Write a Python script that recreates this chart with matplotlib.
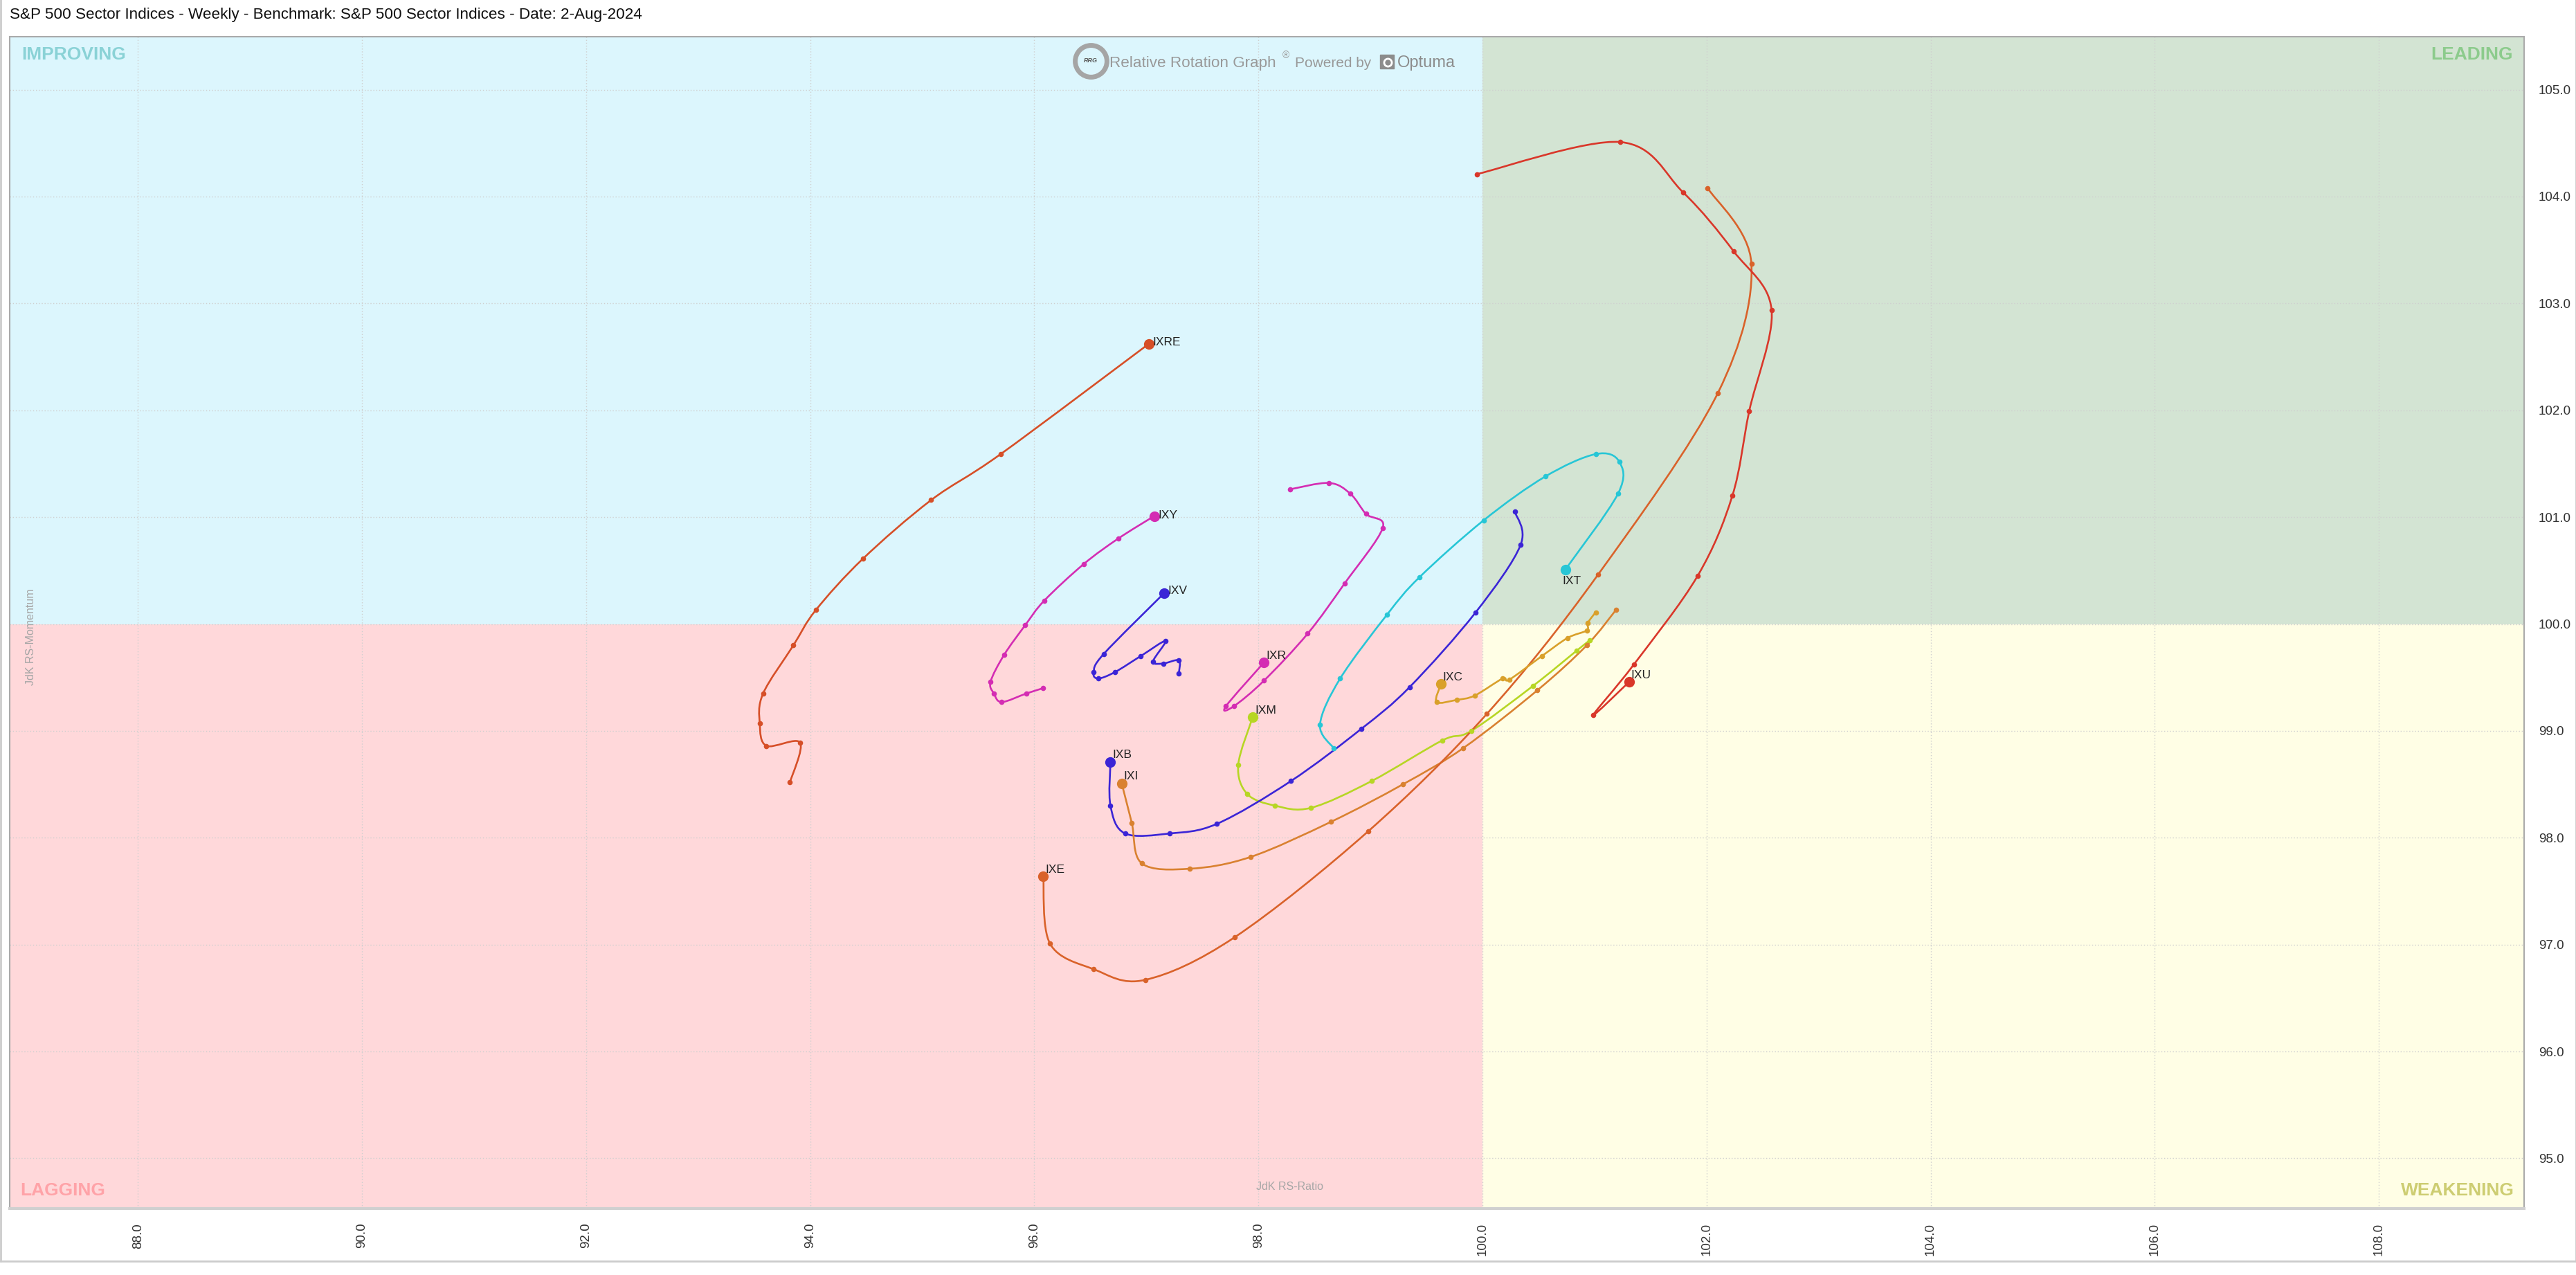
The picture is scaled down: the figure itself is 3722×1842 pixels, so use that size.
import matplotlib.pyplot as plt
from matplotlib.path import Path
from matplotlib.patches import PathPatch, Rectangle
from matplotlib.lines import Line2D
import numpy as np

plt.rcParams['font.family'] = ['Liberation Sans', 'DejaVu Sans']

W, H = 3723, 1842

# weekly tails, oldest -> latest (last value = current position)
names = ['IXRE', 'IXY', 'IXV', 'IXR', 'IXM', 'IXB', 'IXI', 'IXE', 'IXU', 'IXT', 'IXC']
colors = ['#d64f28', '#d42db3', '#3b25d6', '#d42db3', '#b7d624', '#3b25d6',
          '#d98130', '#d9622a', '#d9372a', '#27c6d6', '#d9a02a']

ixre_ratio = [93.82, 93.91, 93.61, 93.55, 93.58, 93.85, 94.05, 94.47, 95.08, 95.70, 97.02]
ixre_mom = [98.52, 98.89, 98.86, 99.07, 99.35, 99.80, 100.13, 100.61, 101.16, 101.59, 102.62]

ixy_ratio = [96.08, 95.93, 95.71, 95.64, 95.61, 95.73, 95.92, 96.09, 96.44, 96.75, 97.07]
ixy_mom = [99.40, 99.35, 99.27, 99.35, 99.46, 99.71, 99.99, 100.22, 100.56, 100.80, 101.01]

ixv_ratio = [97.29, 97.29, 97.15, 97.06, 97.17, 96.95, 96.72, 96.57, 96.53, 96.62, 97.16]
ixv_mom = [99.54, 99.66, 99.63, 99.65, 99.84, 99.70, 99.55, 99.49, 99.55, 99.72, 100.29]

ixr_ratio = [98.28, 98.63, 98.82, 98.96, 99.11, 98.77, 98.44, 98.05, 97.78, 97.71, 98.05]
ixr_mom = [101.26, 101.32, 101.22, 101.03, 100.90, 100.38, 99.91, 99.47, 99.23, 99.23, 99.64]

ixm_ratio = [100.96, 100.84, 100.45, 99.90, 99.64, 99.01, 98.47, 98.15, 97.90, 97.82, 97.95]
ixm_mom = [99.85, 99.75, 99.42, 99.00, 98.91, 98.53, 98.28, 98.30, 98.41, 98.68, 99.13]

ixb_ratio = [100.29, 100.34, 99.94, 99.35, 98.92, 98.29, 97.63, 97.21, 96.81, 96.68, 96.68]
ixb_mom = [101.05, 100.74, 100.11, 99.41, 99.02, 98.53, 98.13, 98.04, 98.04, 98.30, 98.71]

ixi_ratio = [101.19, 100.93, 100.49, 99.83, 99.29, 98.65, 97.93, 97.39, 96.96, 96.87, 96.78]
ixi_mom = [100.13, 99.80, 99.38, 98.84, 98.50, 98.15, 97.82, 97.71, 97.76, 98.14, 98.51]

ixe_ratio = [102.01, 102.40, 102.10, 101.03, 100.04, 98.98, 97.79, 96.99, 96.53, 96.14, 96.08]
ixe_mom = [104.08, 103.37, 102.16, 100.46, 99.16, 98.06, 97.07, 96.67, 96.77, 97.01, 97.64]

ixu_ratio = [99.95, 101.23, 101.79, 102.24, 102.58, 102.38, 102.23, 101.92, 101.35, 100.99, 101.31]
ixu_mom = [104.21, 104.51, 104.04, 103.49, 102.94, 101.99, 101.20, 100.45, 99.62, 99.15, 99.46]

ixt_ratio = [98.67, 98.55, 98.73, 99.15, 99.44, 100.01, 100.56, 101.01, 101.22, 101.21, 100.74]
ixt_mom = [98.84, 99.06, 99.49, 100.09, 100.44, 100.97, 101.38, 101.59, 101.52, 101.22, 100.51]

ixc_ratio = [101.01, 100.94, 100.93, 100.76, 100.53, 100.24, 100.18, 99.93, 99.77, 99.59, 99.63]
ixc_mom = [100.11, 100.01, 99.94, 99.87, 99.70, 99.48, 99.49, 99.33, 99.29, 99.27, 99.44]

ratios = [ixre_ratio, ixy_ratio, ixv_ratio, ixr_ratio, ixm_ratio, ixb_ratio,
          ixi_ratio, ixe_ratio, ixu_ratio, ixt_ratio, ixc_ratio]
moms = [ixre_mom, ixy_mom, ixv_mom, ixr_mom, ixm_mom, ixb_mom,
        ixi_mom, ixe_mom, ixu_mom, ixt_mom, ixc_mom]

# label offsets (points) relative to the head
label_off = {'IXRE': (4, 2), 'IXY': (4, 1), 'IXV': (4, 2), 'IXT': (-3, -12)}


def smooth_path(xs, ys):
    # catmull-rom through the weekly points, as bezier segments
    pts = np.column_stack([xs, ys])
    n = len(pts)
    verts = [pts[0]]
    codes = [Path.MOVETO]
    for i in range(n - 1):
        p0 = pts[max(i - 1, 0)]
        p1 = pts[i]
        p2 = pts[i + 1]
        p3 = pts[min(i + 2, n - 1)]
        verts += [p1 + (p2 - p0) / 6, p2 - (p3 - p1) / 6, p2]
        codes += [Path.CURVE4] * 3
    return Path(verts, codes)


fig = plt.figure(figsize=(W / 100, H / 100), dpi=100)
ax = fig.add_axes([14 / W, 96 / H, 3633 / W, 1693 / H])
ax.set_xlim(86.856, 109.296)
ax.set_ylim(94.53, 105.496)

# quadrants
ax.add_patch(Rectangle((80, 100), 20, 10, color='#dcf6fd', zorder=0, lw=0))
ax.add_patch(Rectangle((100, 100), 20, 10, color='#d3e4d3', zorder=0, lw=0))
ax.add_patch(Rectangle((80, 90), 20, 10, color='#ffd8da', zorder=0, lw=0))
ax.add_patch(Rectangle((100, 90), 20, 10, color='#fffee5', zorder=0, lw=0))

ax.set_xticks(np.arange(88, 109, 2))
ax.set_xticklabels([f"{v:.1f}" for v in np.arange(88, 109, 2)], rotation=90)
ax.set_yticks(np.arange(95, 106, 1))
ax.set_yticklabels([f"{v:.1f}" for v in np.arange(95, 106, 1)])
ax.yaxis.tick_right()
ax.tick_params(length=0, pad=15, labelsize=13.5, labelcolor='#333333')
ax.grid(True, color='#cfcfcf', linestyle=(0, (1, 2)), linewidth=1)
ax.set_axisbelow(True)
for s in ['top', 'right', 'left']:
    ax.spines[s].set_color('#aaaaaa')
    ax.spines[s].set_linewidth(1.5)
ax.spines['bottom'].set_color('#d0d0d0')
ax.spines['bottom'].set_linewidth(3)

for name, col, xs, ys in zip(names, colors, ratios, moms):
    ax.add_patch(PathPatch(smooth_path(xs, ys), fc='none', ec=col, lw=1.9, zorder=3))
    ax.plot(xs[:-1], ys[:-1], 'o', color=col, ms=5.5, mec='none', zorder=4)
    ax.plot(xs[-1], ys[-1], 'o', color=col, ms=11, mec='none', zorder=5)
    off = label_off.get(name, (2, 7))
    ax.annotate(name, (xs[-1], ys[-1]), xytext=off, textcoords='offset points',
                ha='left', va='center', fontsize=12.5, color='#222222', zorder=6)

# quadrant names
qkw = dict(fontsize=19, fontweight='bold', transform=ax.transAxes)
ax.text(17 / 3633, 1 - 14 / 1693, 'IMPROVING', color='#8ad2d6', ha='left', va='top', **qkw)
ax.text(1 - 16 / 3633, 1 - 14 / 1693, 'LEADING', color='#8ccb8c', ha='right', va='top', **qkw)
ax.text(15 / 3633, 14 / 1693, 'LAGGING', color='#ffa3a8', ha='left', va='bottom', **qkw)
ax.text(1 - 14 / 3633, 14 / 1693, 'WEAKENING', color='#cdcd72', ha='right', va='bottom', **qkw)

ax.text(0.509, 24 / 1693, 'JdK RS-Ratio', transform=ax.transAxes, ha='center',
        va='bottom', fontsize=11.5, color='#a6a6a6')
ax.text(0.0085, 0.488, 'JdK RS-Momentum', transform=ax.transAxes, ha='center',
        va='center', rotation=90, fontsize=11.5, color='#a6a6a6')

# title
fig.text(14 / W, 1 - 27 / H, 'S&P 500 Sector Indices - Weekly - Benchmark: S&P 500 Sector Indices - Date: 2-Aug-2024',
         ha='left', va='baseline', fontsize=16.2, color='#111111')

# "Relative Rotation Graph Powered by Optuma" badge
fig.add_artist(Line2D([1576 / W], [1 - 88 / H], marker='o', ms=33, mfc='none',
                      mec='#a5a5a5', mew=5, transform=fig.transFigure))
fig.text(1576 / W, 1 - 88 / H, 'RRG', ha='center', va='center', fontsize=6.5,
         fontweight='bold', style='italic', color='#555555')
fig.text(1603 / W, 1 - 97 / H, 'Relative Rotation Graph', ha='left', va='baseline',
         fontsize=16.2, color='#999999')
fig.text(1853 / W, 1 - 84 / H, '®', ha='left', va='baseline', fontsize=10, color='#999999')
fig.text(1871 / W, 1 - 97 / H, 'Powered by', ha='left', va='baseline',
         fontsize=15, color='#999999')
fig.add_artist(Line2D([2004 / W], [1 - 89 / H], marker='s', ms=15, mfc='#8c8c8c',
                      mec='#8c8c8c', transform=fig.transFigure))
fig.add_artist(Line2D([2005 / W], [1 - 90 / H], marker='o', ms=8, mfc='none',
                      mec='white', mew=2, transform=fig.transFigure))
fig.text(2019 / W, 1 - 97 / H, 'Optuma', ha='left', va='baseline', fontsize=17,
         color='#8c8c8c')

# outer frame
for xy in [([1 / W, 1 / W], [1 - 1822 / H, 1]), ([1 - 1 / W, 1 - 1 / W], [1 - 1822 / H, 1]),
           ([1 / W, 1 - 1 / W], [1 - 1822 / H, 1 - 1822 / H])]:
    fig.add_artist(Line2D(xy[0], xy[1], color='#cccccc', lw=2, transform=fig.transFigure))

fig.savefig('out.png', dpi=100)
